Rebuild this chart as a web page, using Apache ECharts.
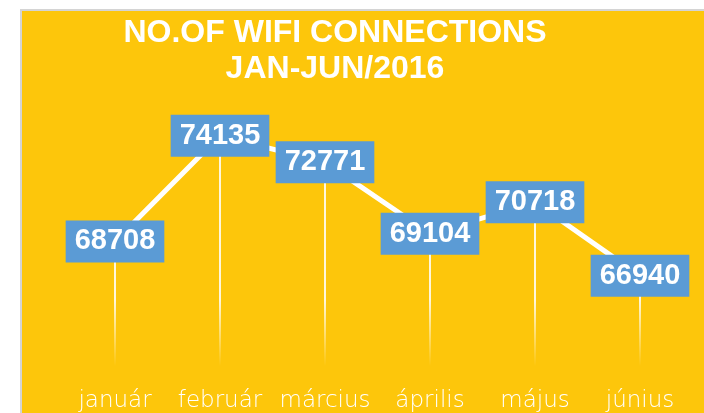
<!DOCTYPE html>
<html>
<head>
<meta charset="utf-8">
<script src="https://cdn.jsdelivr.net/npm/echarts@6/dist/echarts.min.js"></script>
<style>
  html, body { margin: 0; padding: 0; background: #fff; }
  #chart { width: 704px; height: 413px; }
</style>
</head>
<body>
<div id="chart"></div>
<script>
const months = ["január", "február", "március", "április", "május", "június"]
const connections = [68708, 74135, 72771, 69104, 70718, 66940]
const titleLines = ["NO.OF WIFI CONNECTIONS", "JAN-JUN/2016"]

const chart = echarts.init(document.getElementById("chart"))
const option = {
  backgroundColor: "#ffffff",
  animation: false,
  graphic: [
    {
      type: "rect",
      z: -10,
      silent: true,
      shape: { x: 21, y: 10, width: 700, height: 420 },
      style: { fill: "#FDC60B", stroke: "#d4d4d4", lineWidth: 2 }
    }
  ],
  title: {
    text: titleLines.join("\n"),
    left: 335,
    top: 15,
    padding: 0,
    textAlign: "center",
    textStyle: {
      color: "#ffffff",
      fontFamily: "Liberation Sans",
      fontWeight: "bold",
      fontSize: 32,
      lineHeight: 36
    }
  },
  grid: {
    left: 62.5,
    right: 11.5,
    top: 99.45,
    bottom: 39.2
  },
  xAxis: {
    type: "category",
    data: months,
    axisLine: { show: false },
    axisTick: { show: false },
    axisLabel: {
      interval: 0,
      color: "#ffffff",
      fontFamily: "DejaVu Sans",
      fontWeight: 300,
      fontSize: 23,
      margin: 18
    }
  },
  yAxis: {
    type: "value",
    min: 62000,
    max: 76000,
    show: false,
    splitLine: { show: false }
  },
  series: [
    {
      type: "bar",
      data: connections,
      barWidth: 2,
      silent: true,
      itemStyle: {
        color: {
          type: "linear",
          global: true,
          x: 0, y: 300, x2: 0, y2: 366,
          colorStops: [
            { offset: 0, color: "rgba(255,255,255,0.85)" },
            { offset: 1, color: "rgba(255,255,255,0)" }
          ]
        }
      }
    },
    {
      type: "line",
      data: connections,
      symbol: "circle",
      symbolSize: 1,
      itemStyle: { color: "#ffffff" },
      lineStyle: { color: "#ffffff", width: 5 },
      label: {
        show: true,
        position: "inside",
        color: "#ffffff",
        fontFamily: "Liberation Sans",
        fontWeight: "bold",
        fontSize: 29,
        lineHeight: 30,
        backgroundColor: "#5B9BD5",
        padding: [6, 9, 6, 9]
      }
    }
  ]
}
chart.setOption(option)
</script>
</body>
</html>
